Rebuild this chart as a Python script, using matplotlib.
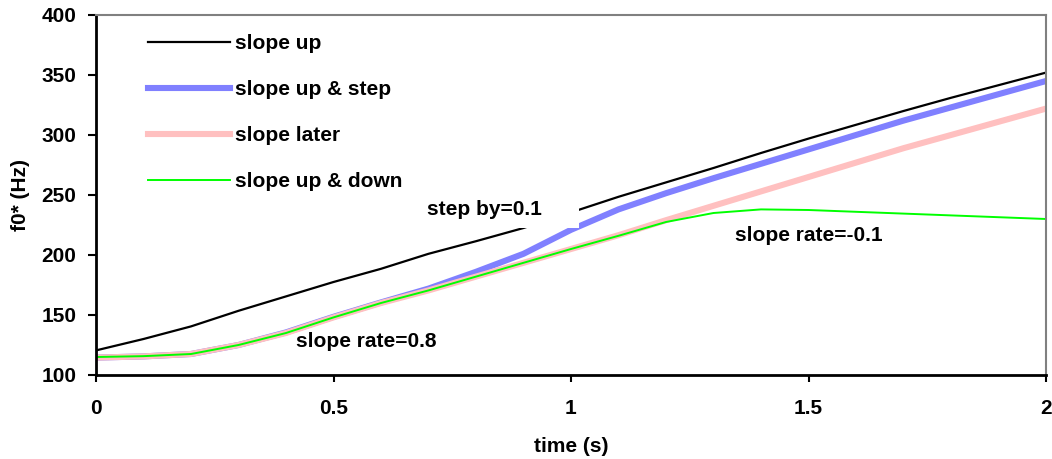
import matplotlib
matplotlib.use('Agg')
import matplotlib.pyplot as plt

# values, every 0.1 s
time_s = [0.0, 0.1, 0.2, 0.3, 0.4, 0.5, 0.6, 0.7, 0.8, 0.9, 1.0,
          1.1, 1.2, 1.3, 1.4, 1.5, 1.6, 1.7, 1.8, 1.9, 2.0]
slope_up = [120.5, 130, 140.5, 153.5, 165.5, 177.5, 188.5, 201, 211.5, 222.5, 235.5,
            248.5, 260.5, 272.5, 285, 297, 308.5, 320, 331, 341.5, 352]
slope_up_step = [114.5, 115.5, 117.5, 125, 135.5, 148.5, 160.5, 172, 186, 201, 221,
                 238, 251.5, 264, 276, 288, 300, 312, 323, 334, 345]
slope_later = [114.5, 115.5, 117.5, 125, 135, 148, 160, 170.5, 182, 193.5, 205,
               216.5, 229, 241, 253, 265, 277, 289, 300, 311, 322]
slope_up_down = [115, 115.7, 117.5, 125, 135, 148, 160, 170.5, 182, 193.5, 205,
                 216, 227.5, 235, 238, 237.5, 236, 234.5, 233, 231.5, 230]

x_ticks = [0, 0.5, 1, 1.5, 2]
y_ticks = [100, 150, 200, 250, 300, 350, 400]

plt.rcParams['font.family'] = ['Liberation Sans', 'DejaVu Sans']
plt.rcParams['font.weight'] = 'bold'
fs = 15

fig = plt.figure(figsize=(10.52, 4.59), dpi=100)
ax = fig.add_axes([96 / 1052, 1 - 375 / 459, 950 / 1052, 360 / 459])

ax.plot(time_s, slope_up, color='black', lw=1.6, label='slope up')
ax.plot(time_s, slope_up_step, color='#8080ff', lw=4.4, label='slope up & step')
ax.plot(time_s, slope_later, color='#ffc0c0', lw=4.4, label='slope later')
ax.plot(time_s, slope_up_down, color='#00ff00', lw=1.4, label='slope up & down')

ax.set_xlim(0, 2)
ax.set_ylim(100, 400)
ax.set_xticks(x_ticks)
ax.set_xticklabels(['0', '0.5', '1', '1.5', '2'])
ax.set_yticks(y_ticks)
ax.tick_params(axis='both', labelsize=fs, width=1.5, direction='out')
ax.tick_params(axis='x', length=5, pad=12)
ax.tick_params(axis='y', length=6, pad=8)

for s in ['left', 'bottom']:
    ax.spines[s].set_color('black')
    ax.spines[s].set_linewidth(2)
for s in ['top', 'right']:
    ax.spines[s].set_color('#808080')
    ax.spines[s].set_linewidth(1.5)

ax.set_xlabel('time (s)', fontsize=fs, fontweight='bold', labelpad=14)
ax.set_ylabel('f0* (Hz)', fontsize=fs, fontweight='bold', labelpad=8)

leg = ax.legend(loc='upper left', bbox_to_anchor=(0.055, 0.947), frameon=False,
                fontsize=fs, handlelength=3.9, handletextpad=0.25,
                labelspacing=1.3, borderpad=0, borderaxespad=0)

# white label box hides part of the black curve, as in the original
ax.text(0.697, 237.5, 'step by=0.1     ', fontsize=fs, fontweight='bold',
        ha='left', va='center', zorder=5,
        bbox=dict(boxstyle='square,pad=0.4', fc='white', ec='none'))
ax.text(1.5, 216.5, 'slope rate=-0.1', fontsize=fs, fontweight='bold',
        ha='center', va='center', zorder=5)
ax.text(0.568, 128, 'slope rate=0.8', fontsize=fs, fontweight='bold',
        ha='center', va='center', zorder=5)

fig.savefig('out.png', dpi=100)
